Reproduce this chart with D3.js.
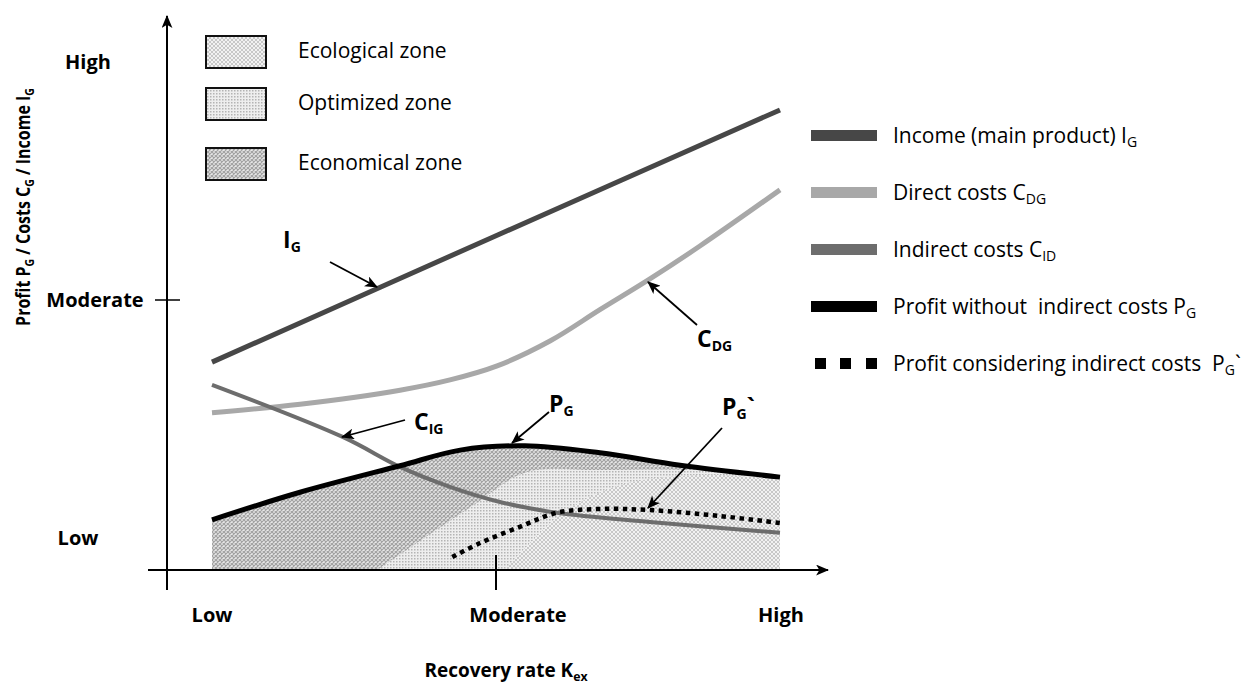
<!DOCTYPE html>
<html>
<head>
<meta charset="utf-8">
<script src="https://cdn.jsdelivr.net/npm/d3@7"></script>
<style>
  body { margin: 0; background: #fff; }
  text { font-family: "Open Sans", "Noto Sans", sans-serif; fill: #000; }
</style>
</head>
<body>
<script>
const width = 1250
const height = 684

// recovery rate runs 0 (Low) .. 1 (High), value axis 0 .. 100
const xTicks = [0, 0.5, 1]
const xTickLabels = ['Low', 'Moderate', 'High']
const yTicks = [6, 50, 94]
const yTickLabels = ['Low', 'Moderate', 'High']

const income = [[0, 38.5], [0.5, 61.9], [1, 85.2]]
const directCosts = [[0, 29.1], [0.155, 30.7], [0.331, 33.3], [0.419, 35.2], [0.502, 37.8], [0.595, 42.4], [0.683, 48.2], [0.771, 53.9], [0.859, 60.0], [1, 70.4]]
const indirectCosts = [[0, 34.3], [0.231, 24.6], [0.331, 19.1], [0.419, 15.4], [0.507, 12.6], [0.607, 10.6], [0.771, 8.9], [1, 6.9]]
const profit = [[0, 9.3], [0.155, 14.4], [0.331, 19.3], [0.437, 22.2], [0.551, 23.0], [0.683, 21.7], [0.824, 19.4], [1, 17.2]]
const profitIndirect = [[0.423, 2.4], [0.472, 5.0], [0.542, 8.0], [0.607, 10.6], [0.683, 11.3], [0.771, 11.1], [0.894, 10.0], [1, 8.7]]

// zone borders (top edge of each zone, bottom is the axis)
const optimizedEdge = [[0.291, 0], [0.46, 12], [0.553, 18.1], [0.683, 18.5], [0.859, 18.5], [1, 17.2]]
const ecologicalEdge = [[0.516, 0], [0.613, 10.2], [0.718, 15.7], [0.859, 17.6], [1, 16.7]]

const zones = ['Ecological zone', 'Optimized zone', 'Economical zone']

const colors = {
    income: '#474747',
    direct: '#a8a8a8',
    indirect: '#6d6d6d',
    profit: '#000'
}

const svg = d3.select('body').append('svg')
    .attr('width', width)
    .attr('height', height)

const x = d3.scaleLinear().domain([0, 1]).range([212, 780])
const y = d3.scaleLinear().domain([0, 100]).range([570, 30])

const defs = svg.append('defs')

// hatch patterns
const eco = defs.append('pattern').attr('id', 'eco')
    .attr('width', 4).attr('height', 4).attr('patternUnits', 'userSpaceOnUse')
eco.append('rect').attr('width', 4).attr('height', 4).attr('fill', '#f2f2f2')
eco.append('path').attr('d', 'M0,0 L4,4 M4,0 L0,4').attr('stroke', '#c8c8c8').attr('stroke-width', 1)

const opt = defs.append('pattern').attr('id', 'opt')
    .attr('width', 3).attr('height', 3).attr('patternUnits', 'userSpaceOnUse')
opt.append('rect').attr('width', 3).attr('height', 3).attr('fill', '#eeeeee')
opt.append('rect').attr('width', 1.5).attr('height', 1.5).attr('fill', '#b4b4b4')

const econ = defs.append('pattern').attr('id', 'econ')
    .attr('width', 4).attr('height', 4).attr('patternUnits', 'userSpaceOnUse')
econ.append('rect').attr('width', 4).attr('height', 4).attr('fill', '#e8e8e8')
econ.append('path').attr('d', 'M0,0 L4,4 M4,0 L0,4').attr('stroke', '#a2a2a2').attr('stroke-width', 1.2)

const patterns = ['url(#eco)', 'url(#opt)', 'url(#econ)']

defs.append('marker').attr('id', 'head')
    .attr('viewBox', '0 0 12 10')
    .attr('refX', 11).attr('refY', 5)
    .attr('markerWidth', 13).attr('markerHeight', 11)
    .attr('markerUnits', 'userSpaceOnUse')
    .attr('orient', 'auto')
    .append('path').attr('d', 'M0,0 L12,5 L0,10 L3,5 Z').attr('fill', '#000')

const curve = d3.curveCatmullRom.alpha(0.5)
const area = d3.area().x(d => x(d[0])).y0(y(0)).y1(d => y(d[1])).curve(curve)
const line = d3.line().x(d => x(d[0])).y(d => y(d[1])).curve(curve)

defs.append('clipPath').attr('id', 'underProfit')
    .append('path')
    .attr('d', area(profit))

// zones
const zoneLayer = svg.append('g').attr('clip-path', 'url(#underProfit)')
zoneLayer.append('path').attr('d', area(profit)).attr('fill', 'url(#econ)')
zoneLayer.append('path').attr('d', area(optimizedEdge)).attr('fill', 'url(#opt)')
zoneLayer.append('path').attr('d', area(ecologicalEdge)).attr('fill', 'url(#eco)')

// axes
svg.append('line').attr('x1', 167).attr('x2', 167).attr('y1', 590).attr('y2', 16)
    .attr('stroke', '#000').attr('stroke-width', 2).attr('marker-end', 'url(#head)')
svg.append('line').attr('x1', 148).attr('x2', 828).attr('y1', y(0)).attr('y2', y(0))
    .attr('stroke', '#000').attr('stroke-width', 2).attr('marker-end', 'url(#head)')
svg.append('line').attr('x1', 155).attr('x2', 180).attr('y1', y(50)).attr('y2', y(50))
    .attr('stroke', '#000').attr('stroke-width', 1.5)
svg.append('line').attr('x1', x(0.5)).attr('x2', x(0.5)).attr('y1', 555).attr('y2', 590)
    .attr('stroke', '#000').attr('stroke-width', 2)

const xLabelOffset = [0, 22, 1]
svg.selectAll('.xtick').data(xTicks).enter().append('text')
    .attr('class', 'xtick')
    .attr('x', (d, i) => x(d) + xLabelOffset[i])
    .attr('y', 622)
    .attr('text-anchor', 'middle')
    .attr('font-size', 20).attr('font-weight', 700)
    .text((d, i) => xTickLabels[i])

const yLabelX = [78, 95, 88]
svg.selectAll('.ytick').data(yTicks).enter().append('text')
    .attr('class', 'ytick')
    .attr('x', (d, i) => yLabelX[i])
    .attr('y', d => y(d) + 7)
    .attr('text-anchor', 'middle')
    .attr('font-size', 20).attr('font-weight', 700)
    .text((d, i) => yTickLabels[i])

// text with subscripts
const sub = (sel, parts, size, subSize) => {
    parts.forEach(([s, isSub]) => {
        sel.append('tspan')
            .attr('font-size', isSub ? subSize : size)
            .attr('baseline-shift', isSub ? '-30%' : null)
            .text(s)
    })
    return sel
}

sub(svg.append('text')
    .attr('transform', 'translate(506,677) scale(0.95,1)')
    .attr('text-anchor', 'middle').attr('font-weight', 700),
    [['Recovery rate K', false], ['ex', true]], 20, 13)

sub(svg.append('text')
    .attr('transform', 'translate(30,207) rotate(-90) scale(0.8,1)')
    .attr('text-anchor', 'middle').attr('font-weight', 700),
    [['Profit P', false], ['G', true], [' / Costs C', false], ['G', true], [' / Income I', false], ['G', true]], 20, 13)

// curves
svg.append('path').datum(income).attr('d', line)
    .attr('fill', 'none').attr('stroke', colors.income).attr('stroke-width', 5)
svg.append('path').datum(directCosts).attr('d', line)
    .attr('fill', 'none').attr('stroke', colors.direct).attr('stroke-width', 5)
svg.append('path').datum(indirectCosts).attr('d', line)
    .attr('fill', 'none').attr('stroke', colors.indirect).attr('stroke-width', 4)
svg.append('path').datum(profit).attr('d', line)
    .attr('fill', 'none').attr('stroke', colors.profit).attr('stroke-width', 5)
svg.append('path').datum(profitIndirect).attr('d', line)
    .attr('fill', 'none').attr('stroke', '#000').attr('stroke-width', 4.5)
    .attr('stroke-dasharray', '4.5,4.5')

// curve callouts
const callouts = [
    {parts: [['I', false], ['G', true]], tx: 283, ty: 248, from: [330, 262], to: [377, 287]},
    {parts: [['C', false], ['DG', true]], tx: 697, ty: 347, from: [697, 325], to: [648, 282]},
    {parts: [['C', false], ['IG', true]], tx: 414, ty: 430, from: [405, 420], to: [342, 437]},
    {parts: [['P', false], ['G', true]], tx: 549, ty: 412, from: [549, 412], to: [512, 443]},
    {parts: [['P', false], ['G', true], ['`', false]], tx: 722, ty: 415, from: [722, 428], to: [648, 508]}
]
callouts.forEach(c => {
    svg.append('line')
        .attr('x1', c.from[0]).attr('y1', c.from[1])
        .attr('x2', c.to[0]).attr('y2', c.to[1])
        .attr('stroke', '#000').attr('stroke-width', 1.8)
        .attr('marker-end', 'url(#head)')
    sub(svg.append('text').attr('x', c.tx).attr('y', c.ty).attr('font-weight', 700), c.parts, 23, 14)
})

// zone legend
const zoneLegend = svg.append('g')
zones.forEach((z, i) => {
    const yy = [36, 88, 148][i]
    zoneLegend.append('rect')
        .attr('x', 206).attr('y', yy).attr('width', 60).attr('height', 32)
        .attr('fill', patterns[i]).attr('stroke', '#111').attr('stroke-width', 2)
    zoneLegend.append('text')
        .attr('x', 298).attr('y', yy + 22)
        .attr('font-size', 21)
        .text(z)
})

// line legend
const lineLegend = [
    {parts: [['Income (main product) I', false], ['G', true]], color: colors.income},
    {parts: [['Direct costs C', false], ['DG', true]], color: colors.direct},
    {parts: [['Indirect costs C', false], ['ID', true]], color: colors.indirect},
    {parts: [['Profit without  indirect costs P', false], ['G', true]], color: colors.profit},
    {parts: [['Profit considering indirect costs  P', false], ['G', true], ['`', false]], color: null}
]
lineLegend.forEach((d, i) => {
    const cy = 135 + i * 57
    if (d.color) {
        svg.append('rect').attr('x', 811).attr('y', cy - 5).attr('width', 66).attr('height', 11).attr('fill', d.color)
    } else {
        [815, 840, 866].forEach(sx => {
            svg.append('rect').attr('x', sx).attr('y', cy - 5).attr('width', 11).attr('height', 11).attr('fill', '#000')
        })
    }
    sub(svg.append('text').attr('x', 893).attr('y', cy + 8).style('white-space', 'pre'), d.parts, 21, 14)
})
</script>
</body>
</html>
